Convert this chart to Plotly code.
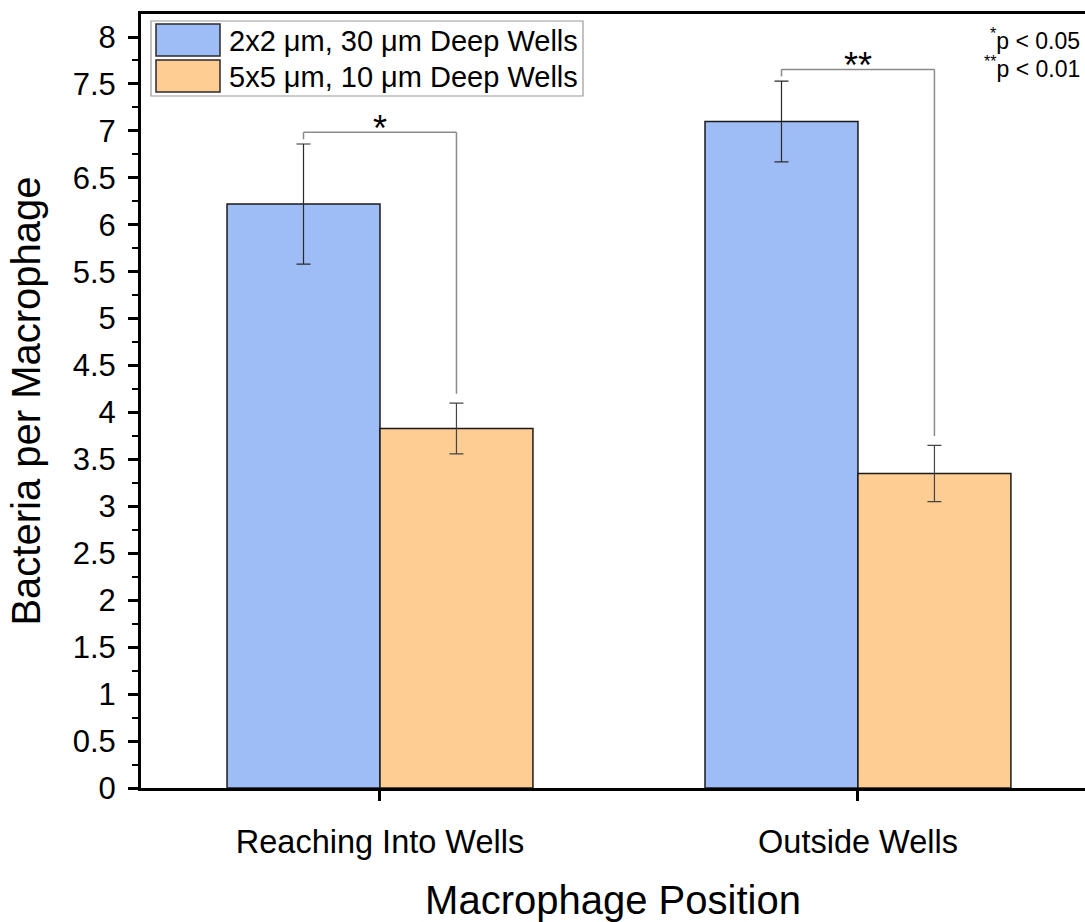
import plotly.graph_objects as go

categories = ["Reaching Into Wells", "Outside Wells"]
series_names = ["2x2 μm, 30 μm Deep Wells", "5x5 μm, 10 μm Deep Wells"]
blue_vals = [6.22, 7.10]
blue_err = [0.64, 0.43]
orange_vals = [3.83, 3.35]
orange_err = [0.27, 0.30]
sig_labels = ["*", "**"]
y_ticks = [i * 0.5 for i in range(17)]
y_tick_text = ["0", "0.5", "1", "1.5", "2", "2.5", "3", "3.5", "4", "4.5", "5", "5.5",
               "6", "6.5", "7", "7.5", "8"]

BLUE = "#9EBCF5"
ORANGE = "#FECD94"
FONT = "Arial, Liberation Sans, sans-serif"

W, H = 1085, 922
ML, MR, MT, MB = 141, 0, 14, 134
PW, PH = W - ML - MR, H - MT - MB

def px(x):
    return (x - ML) / PW

def py(y):
    return 1 - (y - MT) / PH

fig = go.Figure()
fig.add_trace(go.Bar(
    x=[0, 1], y=blue_vals, name=series_names[0],
    marker=dict(color=BLUE, line=dict(color="#1a1a1a", width=1.5)),
    error_y=dict(type="data", array=blue_err, color="#2a2a2a", thickness=1.2, width=7),
    showlegend=False,
))
fig.add_trace(go.Bar(
    x=[0, 1], y=orange_vals, name=series_names[1],
    marker=dict(color=ORANGE, line=dict(color="#1a1a1a", width=1.5)),
    error_y=dict(type="data", array=orange_err, color="#444444", thickness=1.2, width=7),
    showlegend=False,
))

bargap = 0.36
half = (1 - bargap) / 4  # offset from category centre to each bar centre
shapes = []
annotations = []
for i in range(len(categories)):
    xl = i - half
    xr = i + half
    top_l = blue_vals[i] + blue_err[i]
    top_r = orange_vals[i] + orange_err[i]
    yb = max(top_l, top_r) + 0.125
    line = dict(color="#8a8a8a", width=1.5)
    shapes.append(dict(type="line", xref="x", yref="y", x0=xl, x1=xl, y0=top_l + 0.05, y1=yb, line=line))
    shapes.append(dict(type="line", xref="x", yref="y", x0=xl, x1=xr, y0=yb, y1=yb, line=line))
    shapes.append(dict(type="line", xref="x", yref="y", x0=xr, x1=xr, y0=top_r + 0.1, y1=yb, line=line))
    annotations.append(dict(x=i, y=yb, xref="x", yref="y", text=sig_labels[i], showarrow=False,
                            yanchor="bottom", yshift=-19, font=dict(family=FONT, size=36, color="black")))

# custom legend
shapes.append(dict(type="rect", xref="paper", yref="paper", x0=px(151), x1=px(583), y0=py(21), y1=py(96),
                   line=dict(color="#9a9a9a", width=1.2), fillcolor="white"))
for k, (col, name) in enumerate([(BLUE, series_names[0]), (ORANGE, series_names[1])]):
    y0 = 24 + 36 * k
    shapes.append(dict(type="rect", xref="paper", yref="paper", x0=px(156), x1=px(220), y0=py(y0), y1=py(y0 + 32),
                       line=dict(color="#2a2a2a", width=1.5), fillcolor=col))
    annotations.append(dict(x=px(227), y=py(y0 + 17), xref="paper", yref="paper", text=name, showarrow=False,
                            xanchor="left", yanchor="middle", font=dict(family=FONT, size=29, color="black")))

annotations.append(dict(x=px(1082), y=py(39), xref="paper", yref="paper", text="<sup>*</sup>p < 0.05",
                        showarrow=False, xanchor="right", yanchor="middle",
                        font=dict(family=FONT, size=23, color="black")))
annotations.append(dict(x=px(1082), y=py(67), xref="paper", yref="paper", text="<sup>**</sup>p < 0.01",
                        showarrow=False, xanchor="right", yanchor="middle",
                        font=dict(family=FONT, size=23, color="black")))

fig.update_layout(
    width=W, height=H,
    margin=dict(l=ML, r=MR, t=MT, b=MB, pad=0),
    paper_bgcolor="white", plot_bgcolor="white",
    barmode="group", bargap=bargap, bargroupgap=0,
    shapes=shapes, annotations=annotations,
    font=dict(family=FONT, color="black"),
    xaxis=dict(
        tickmode="array", tickvals=[0, 1], ticktext=categories,
        range=[-0.5, 1.475], showline=True, linecolor="black", linewidth=3, mirror=True,
        ticks="outside", ticklen=10, tickwidth=3, tickcolor="black",
        showgrid=False, zeroline=False, automargin=False,
        ticklabelstandoff=13,
        tickfont=dict(family=FONT, size=32.5, color="black"),
        title=dict(text="Macrophage Position", font=dict(family=FONT, size=40, color="black"), standoff=33),
    ),
    yaxis=dict(
        range=[0, 8.245], tickmode="array", tickvals=y_ticks, ticktext=y_tick_text,
        showline=True, linecolor="black", linewidth=3,
        ticks="outside", ticklen=10, tickwidth=3, tickcolor="black",
        minor=dict(dtick=0.25, tick0=0, ticks="outside", ticklen=6, tickwidth=2, tickcolor="black"),
        showgrid=False, zeroline=False, automargin=False,
        ticklabelstandoff=6,
        tickfont=dict(family=FONT, size=31, color="black"),
        title=dict(text="Bacteria per Macrophage", font=dict(family=FONT, size=40, color="black"), standoff=20),
    ),
)

fig.write_html("out.html")
